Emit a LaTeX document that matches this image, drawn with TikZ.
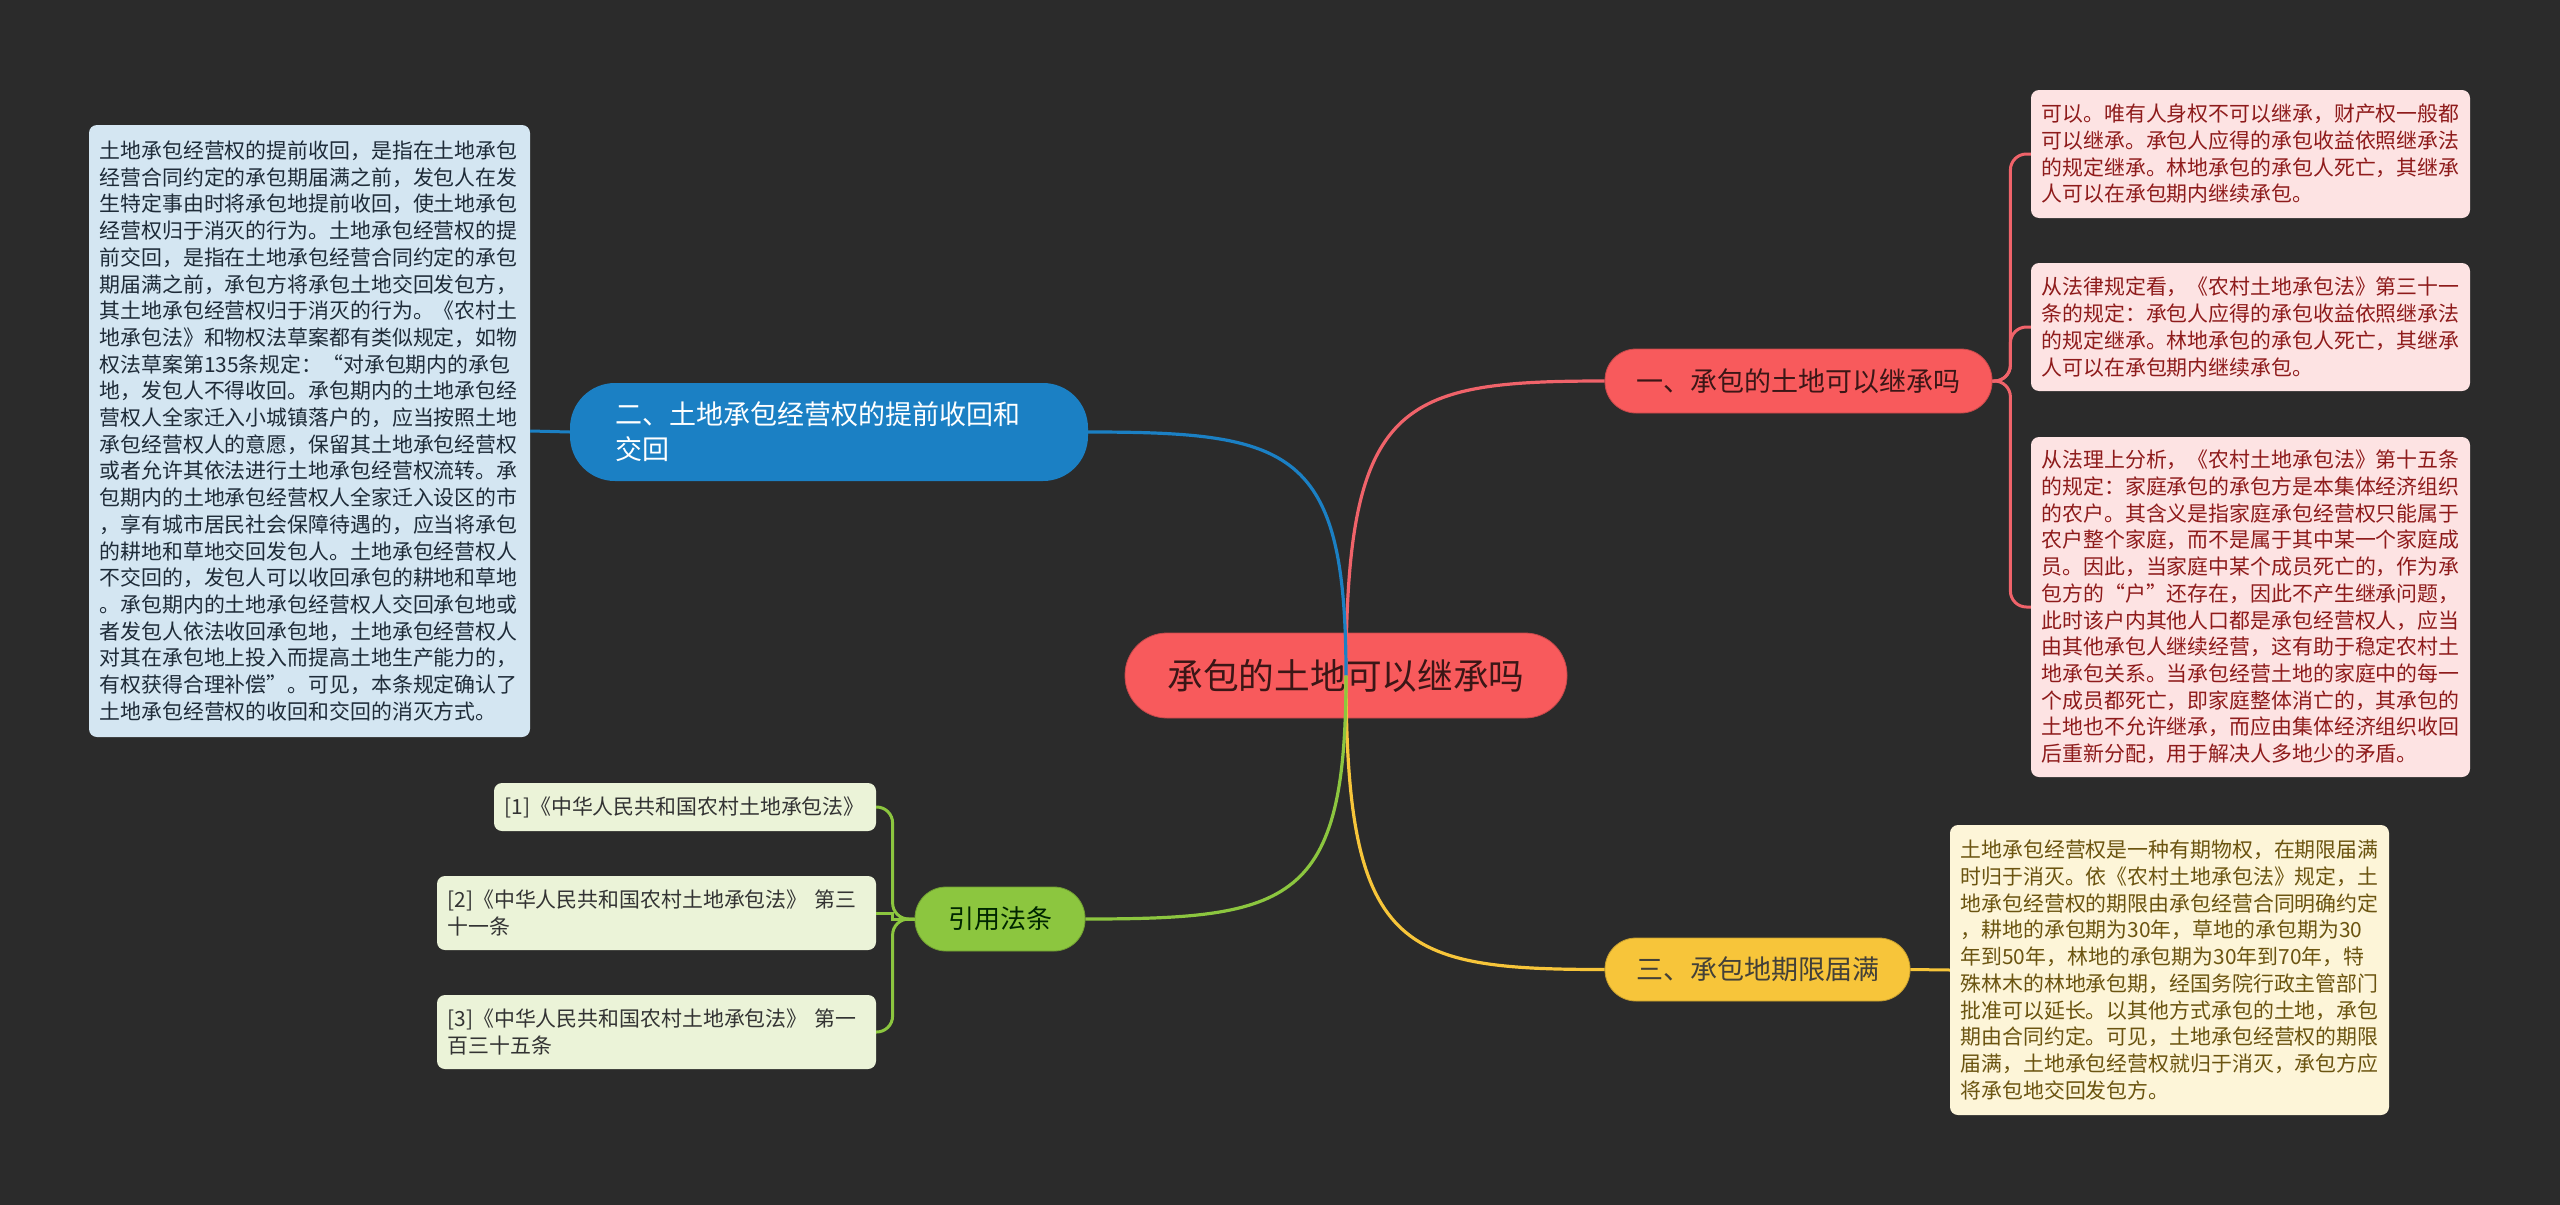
\documentclass[tikz,border=0pt]{standalone}
\usepackage{fontspec}
\setmainfont{Noto Sans CJK SC}
\usetikzlibrary{calc}
\definecolor{bg}{HTML}{2B2B2B}
\definecolor{cred}{HTML}{F85A5C}
\definecolor{credline}{HTML}{F0636A}
\definecolor{cblue}{HTML}{1B80C4}
\definecolor{cyellow}{HTML}{F7C53A}
\definecolor{cgreen}{HTML}{8CC63F}
\definecolor{redleaf}{HTML}{FDE3E3}
\definecolor{redtext}{HTML}{8E1B1B}
\definecolor{blueleaf}{HTML}{D4E6F2}
\definecolor{bluetext}{HTML}{1E2B38}
\definecolor{yelleaf}{HTML}{FDF5D8}
\definecolor{yeltext}{HTML}{6B5410}
\definecolor{grnleaf}{HTML}{EBF3D8}
\definecolor{grntext}{HTML}{333333}
\definecolor{darktext}{HTML}{3B1616}
\begin{document}
\begin{tikzpicture}[x=1pt,y=-1pt,
  leafbox/.style={rectangle, rounded corners=8pt, inner xsep=10.5pt, inner ysep=0pt,
    align=left, text width=418pt, minimum width=439pt,
    font=\fontsize{20.9}{26.7}\selectfont},
  branchbox/.style={rectangle, inner sep=0pt, font=\fontsize{27}{35}\selectfont},
  conn/.style={line width=3.2pt},
  leafconn/.style={line width=3pt, rounded corners=16pt}]
\fill[bg] (0,0) rectangle (2560,1205);
\useasboundingbox (0,0) rectangle (2560,1205);

% central
\node[rectangle, fill=cred, draw=cred!80!black, line width=0.8pt, rounded corners=42pt,
  minimum width=442pt, minimum height=85pt, text=darktext,
  font=\fontsize{35.7}{43}\selectfont] (c) at (1346,675.5) {承包的土地可以继承吗};

% branches
\node[branchbox, fill=cred, draw=cred!80!black, line width=0.8pt, rounded corners=31pt,
  minimum width=387pt, minimum height=64pt, text=darktext] (b1) at (1798.5,381) {一、承包的土地可以继承吗};
\node[branchbox, fill=cblue, rounded corners=45pt, minimum width=518pt, minimum height=98pt,
  text=white, align=left, text width=428pt, inner xsep=45pt] (b2) at (829,432)
  {二、土地承包经营权的提前收回和\\交回};
\node[branchbox, fill=cyellow, draw=cyellow!80!black, line width=0.8pt, rounded corners=31pt,
  minimum width=305pt, minimum height=63pt, text=black!85!yellow] (b3) at (1757.5,969.5) {三、承包地期限届满};
\node[branchbox, fill=cgreen, draw=cgreen!80!black, line width=0.8pt, rounded corners=31pt,
  minimum width=170pt, minimum height=64pt, text=black!85!green,
  font=\fontsize{26}{32}\selectfont] (b4) at (1000,919) {引用法条};

% blue leaf
\node[leafbox, fill=blueleaf, text=bluetext, minimum width=441pt, text width=420pt,
  minimum height=612pt] (l2) at (309.5,431) {土地承包经营权的提前收回，是指在土地承包\\
经营合同约定的承包期届满之前，发包人在发\\
生特定事由时将承包地提前收回，使土地承包\\
经营权归于消灭的行为。土地承包经营权的提\\
前交回，是指在土地承包经营合同约定的承包\\
期届满之前，承包方将承包土地交回发包方，\\
其土地承包经营权归于消灭的行为。《农村土\\
地承包法》和物权法草案都有类似规定，如物\\
权法草案第135条规定：“对承包期内的承包\\
地，发包人不得收回。承包期内的土地承包经\\
营权人全家迁入小城镇落户的，应当按照土地\\
承包经营权人的意愿，保留其土地承包经营权\\
或者允许其依法进行土地承包经营权流转。承\\
包期内的土地承包经营权人全家迁入设区的市\\
，享有城市居民社会保障待遇的，应当将承包\\
的耕地和草地交回发包人。土地承包经营权人\\
不交回的，发包人可以收回承包的耕地和草地\\
。承包期内的土地承包经营权人交回承包地或\\
者发包人依法收回承包地，土地承包经营权人\\
对其在承包地上投入而提高土地生产能力的，\\
有权获得合理补偿”。可见，本条规定确认了\\
土地承包经营权的收回和交回的消灭方式。};

% red leaves
\node[leafbox, fill=redleaf, text=redtext, minimum height=128pt] (r1) at (2250.5,154)
{可以。唯有人身权不可以继承，财产权一般都\\
可以继承。承包人应得的承包收益依照继承法\\
的规定继承。林地承包的承包人死亡，其继承\\
人可以在承包期内继续承包。};
\node[leafbox, fill=redleaf, text=redtext, minimum height=128pt] (r2) at (2250.5,327)
{从法律规定看，《农村土地承包法》第三十一\\
条的规定：承包人应得的承包收益依照继承法\\
的规定继承。林地承包的承包人死亡，其继承\\
人可以在承包期内继续承包。};
\node[leafbox, fill=redleaf, text=redtext, minimum height=340pt] (r3) at (2250.5,607)
{从法理上分析，《农村土地承包法》第十五条\\
的规定：家庭承包的承包方是本集体经济组织\\
的农户。其含义是指家庭承包经营权只能属于\\
农户整个家庭，而不是属于其中某一个家庭成\\
员。因此，当家庭中某个成员死亡的，作为承\\
包方的“户”还存在，因此不产生继承问题，\\
此时该户内其他人口都是承包经营权人，应当\\
由其他承包人继续经营，这有助于稳定农村土\\
地承包关系。当承包经营土地的家庭中的每一\\
个成员都死亡，即家庭整体消亡的，其承包的\\
土地也不允许继承，而应由集体经济组织收回\\
后重新分配，用于解决人多地少的矛盾。};

% yellow leaf
\node[leafbox, fill=yelleaf, text=yeltext, minimum height=290pt] (y1) at (2169.5,970)
{土地承包经营权是一种有期物权，在期限届满\\
时归于消灭。依《农村土地承包法》规定，土\\
地承包经营权的期限由承包经营合同明确约定\\
，耕地的承包期为30年，草地的承包期为30\\
年到50年，林地的承包期为30年到70年，特\\
殊林木的林地承包期，经国务院行政主管部门\\
批准可以延长。以其他方式承包的土地，承包\\
期由合同约定。可见，土地承包经营权的期限\\
届满，土地承包经营权就归于消灭，承包方应\\
将承包地交回发包方。};

% green leaves
\node[leafbox, fill=grnleaf, text=grntext, text width=361pt, minimum width=382pt,
  minimum height=48pt] (g1) at (685,807) {[1]《中华人民共和国农村土地承包法》};
\node[leafbox, fill=grnleaf, text=grntext, minimum height=74pt] (g2) at (656.5,913)
{[2]《中华人民共和国农村土地承包法》 第三\\十一条};
\node[leafbox, fill=grnleaf, text=grntext, minimum height=74pt] (g3) at (656.5,1032)
{[3]《中华人民共和国农村土地承包法》 第一\\百三十五条};

% main connectors
\draw[conn, draw=credline] (c.center) .. controls ($(c.center)+(0,-275)$) and ($(b1.west)+(-205,0)$) .. (b1.west);
\draw[conn, draw=cblue] (c.center) .. controls ($(c.center)+(0,-227)$) and ($(b2.east)+(204,0)$) .. (b2.east);
\draw[conn, draw=cyellow] (c.center) .. controls ($(c.center)+(0,275)$) and ($(b3.west)+(-205,0)$) .. (b3.west);
\draw[conn, draw=cgreen] (c.center) .. controls ($(c.center)+(0,228)$) and ($(b4.east)+(206,0)$) .. (b4.east);

% leaf connectors
\coordinate (rk) at ($(b1.east)+(18,0)$);
\draw[leafconn, draw=credline] (b1.east) -- (rk) |- (r1.west);
\draw[leafconn, draw=credline] (b1.east) -- (rk) |- (r2.west);
\draw[leafconn, draw=credline] (b1.east) -- (rk) |- (r3.west);
\draw[line width=3pt, draw=cblue] (b2.west) -- (l2.east);
\draw[line width=3pt, draw=cyellow] (b3.east) -- (y1.west);
\coordinate (gk) at ($(b4.west)+(-22,0)$);
\draw[leafconn, draw=cgreen] (b4.west) -- (gk) |- (g1.east);
\draw[line width=3pt, draw=cgreen] (b4.west) -- (gk) |- (g2.east);
\draw[leafconn, draw=cgreen] (b4.west) -- (gk) |- (g3.east);
\end{tikzpicture}
\end{document}
